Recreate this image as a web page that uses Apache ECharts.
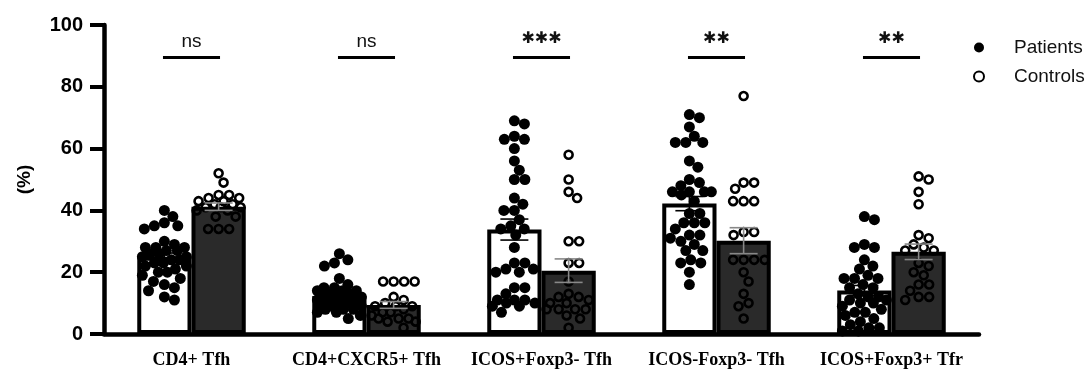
<!DOCTYPE html>
<html>
<head>
<meta charset="utf-8">
<script src="https://cdn.jsdelivr.net/npm/echarts@6/dist/echarts.min.js"></script>
<style>
html,body{margin:0;padding:0;background:#fff;}
#c{width:1092px;height:370px;}
</style>
</head>
<body>
<div id="c"></div>
<script>
// ---------- data ----------
const categories = ['CD4+ Tfh', 'CD4+CXCR5+ Tfh', 'ICOS+Foxp3- Tfh', 'ICOS-Foxp3- Tfh', 'ICOS+Foxp3+ Tfr'];
const patientMean = [25, 12.3, 33.8, 42.2, 14.1];
const patientSem  = [1.2, 0.9, 3.4, 2.3, 1.6];
const controlMean = [41.2, 9.4, 20.5, 30.2, 26.6];
const controlSem  = [1.2, 1.1, 3.8, 4.2, 2.5];
const patientValues = [
  [40, 38, 36, 35, 35, 34, 30, 29, 28, 28, 28, 27, 27, 26, 26, 25, 25, 24, 24, 23, 23, 22, 22, 21, 20, 20, 19, 18, 17, 16, 15, 14, 12, 11],
  [26, 24, 23, 22, 18, 16, 15, 15, 14, 14, 14, 13, 13, 13, 12, 12, 12, 11, 11, 11, 10, 10, 10, 9, 9, 9, 8, 8, 8, 7, 7, 6, 5],
  [69, 68, 64, 63, 63, 60, 56, 53, 50, 50, 44, 42, 40, 40, 37, 35, 34, 34, 32, 28, 23, 23, 21, 21, 20, 20, 15, 15, 13, 11, 11, 11, 10, 10, 9, 9, 7],
  [71, 70, 67, 64, 62, 62, 62, 56, 54, 50, 49, 48, 46, 46, 46, 46, 45, 43, 39, 39, 36, 36, 36, 34, 32, 32, 31, 30, 29, 27, 27, 24, 23, 23, 20, 16],
  [38, 37, 29, 28, 28, 24, 22, 21, 19, 18, 18, 18, 16, 15, 15, 13, 12, 12, 11, 11, 10, 10, 9, 8, 7, 7, 6, 5, 4, 3, 2, 2, 1, 1]
];
const controlValues = [
  [52, 49, 45, 45, 44, 44, 43, 43, 42, 42, 41, 41, 41, 40, 40, 38, 38, 34, 34, 34],
  [17, 17, 17, 17, 12, 11, 10, 9, 9, 9, 8, 7, 7, 6, 5, 5, 5, 4, 4, 2],
  [58, 50, 46, 44, 30, 30, 23, 23, 17, 13, 12, 12, 11, 10, 10, 8, 8, 8, 8, 6, 5, 2],
  [77, 49, 49, 47, 43, 43, 43, 33, 33, 32, 24, 24, 24, 24, 20, 17, 13, 10, 9, 5],
  [51, 50, 46, 42, 32, 31, 29, 28, 27, 27, 23, 22, 20, 19, 16, 16, 14, 12, 12, 11]
];
const sigLabels = ['ns', 'ns', '***', '**', '**'];
const sigLevel = 89.5;
const yMin = 0, yMax = 100, yInterval = 20;

// ---------- layout ----------
const GRID = {left: 104, right: 113, top: 25, bottom: 36};
const W = 1092, H = 370;
const gridW = W - GRID.left - GRID.right;
const gridH = H - GRID.top - GRID.bottom;
const bandPx = gridW / categories.length;
const pxPerUnit = gridH / (yMax - yMin);
const BAR_FRAC = 0.31;          // bar width as fraction of category band
const SIDE = BAR_FRAC / 2;      // bar centre offset from category centre (in category units)

// deterministic beeswarm: x offsets in px for the given values
function swarm(values, D, limit) {
  const order = values.map((v, i) => i).sort((a, b) => values[b] - values[a]);
  const placed = [];
  const offs = new Array(values.length);
  for (const i of order) {
    const y = values[i] * pxPerUnit;
    const near = placed.filter(p => Math.abs(p.y - y) < D);
    const cands = [0];
    near.forEach(p => {
      const dx = Math.sqrt(D * D - (p.y - y) * (p.y - y));
      cands.push(p.x + dx, p.x - dx);
    });
    cands.sort((a, b) => Math.abs(a) - Math.abs(b));
    let x = null;
    for (const c of cands) {
      if (Math.abs(c) > limit + 1e-6) continue;
      if (near.every(p => (p.x - c) * (p.x - c) + (p.y - y) * (p.y - y) >= D * D - 0.01)) { x = c; break; }
    }
    if (x === null) {
      let best = 0, bestD = -1;
      for (let c = -limit; c <= limit + 1e-6; c += 1) {
        const md = Math.min.apply(null, near.map(p => Math.hypot(p.x - c, p.y - y)));
        if (md > bestD) { bestD = md; best = c; }
      }
      x = best;
    }
    placed.push({x: x, y: y});
    offs[i] = x;
  }
  return offs;
}

function pointsFor(groups, side) {
  const out = [];
  groups.forEach((vals, g) => {
    const offs = swarm(vals, 10.5, 22);
    vals.forEach((v, k) => out.push([g + side * SIDE + offs[k] / bandPx, v]));
  });
  return out;
}

const patientPts = pointsFor(patientValues, -1);
const controlPts = pointsFor(controlValues, 1);

function errRender(side, color) {
  return function (params, api) {
    const cat = api.value(0), m = api.value(1), s = api.value(2);
    const bw = api.size([1, 0])[0];
    const c = api.coord([cat, m]);
    const x = c[0] + side * bw * SIDE;
    const yt = api.coord([cat, m + s])[1];
    const yb = api.coord([cat, m - s])[1];
    const hw = bw * 0.08;
    const st = {stroke: color, lineWidth: 1.6};
    return {type: 'group', children: [
      {type: 'line', shape: {x1: x, y1: yt, x2: x, y2: yb}, style: st},
      {type: 'line', shape: {x1: x - hw, y1: yt, x2: x + hw, y2: yt}, style: st},
      {type: 'line', shape: {x1: x - hw, y1: yb, x2: x + hw, y2: yb}, style: st}
    ]};
  };
}

const chart = echarts.init(document.getElementById('c'), null, {renderer: 'canvas'});
chart.setOption({
  animation: false,
  backgroundColor: '#fff',
  grid: {left: GRID.left, right: GRID.right, top: GRID.top, bottom: GRID.bottom, containLabel: false},
  legend: {
    orient: 'vertical', left: 968, top: 33, itemGap: 10,
    itemWidth: 10, itemHeight: 10,
    data: [{name: 'Patients', icon: 'circle'}, {name: 'Controls', icon: 'circle'}],
    textStyle: {fontFamily: 'Liberation Sans', fontSize: 19, color: '#111', padding: [0, 0, 0, 25]}
  },
  xAxis: [{
    type: 'category', data: categories,
    axisLine: {lineStyle: {color: '#000', width: 4.5}},
    axisTick: {show: false},
    axisLabel: {interval: 0, hideOverlap: false, fontFamily: 'Liberation Serif', fontWeight: 'bold', fontSize: 18, color: '#000', margin: 17}
  }, {
    type: 'value', min: -0.5, max: categories.length - 0.5, show: false
  }],
  yAxis: {
    type: 'value', min: yMin, max: yMax, interval: yInterval,
    name: '(%)', nameLocation: 'middle', nameRotate: 90, nameGap: 70,
    nameTextStyle: {fontFamily: 'Liberation Sans', fontWeight: 'bold', fontSize: 19, color: '#000'},
    splitLine: {show: false},
    axisLine: {show: true, onZero: false, lineStyle: {color: '#000', width: 4.5}},
    axisTick: {show: true, length: 14, lineStyle: {color: '#000', width: 4}},
    axisLabel: {fontFamily: 'Liberation Sans', fontWeight: 'bold', fontSize: 20, color: '#000', margin: 21}
  },
  series: [
    {
      type: 'bar', name: 'Patients bar', data: patientMean, barWidth: (BAR_FRAC * 100) + '%', barGap: '0%',
      itemStyle: {color: '#fff', borderColor: '#000', borderWidth: 4}, z: 2
    },
    {
      type: 'bar', name: 'Controls bar', data: controlMean, barWidth: (BAR_FRAC * 100) + '%', barGap: '0%',
      itemStyle: {color: '#2a2a2a', borderColor: '#000', borderWidth: 4}, z: 2
    },
    {
      type: 'scatter', name: 'Patients', xAxisIndex: 1, data: patientPts,
      symbol: 'circle', symbolSize: 11,
      itemStyle: {color: '#000', opacity: 1}, z: 3
    },
    {
      type: 'scatter', name: 'Controls', xAxisIndex: 1, data: controlPts,
      symbol: 'circle', symbolSize: 8,
      itemStyle: {color: 'rgba(0,0,0,0)', borderColor: '#000', borderWidth: 2.6, opacity: 1}, z: 3
    },
    {
      type: 'custom', name: 'Patients err', renderItem: errRender(-1, '#000'),
      data: patientMean.map((m, i) => [i, m, patientSem[i]]), z: 4
    },
    {
      type: 'custom', name: 'Controls err', renderItem: errRender(1, '#888'),
      data: controlMean.map((m, i) => [i, m, controlSem[i]]), z: 4
    },
    {
      type: 'custom', name: 'sig',
      renderItem: function (params, api) {
        const i = api.value(0);
        const c = api.coord([i, api.value(1)]);
        const bw = api.size([1, 0])[0];
        const hw = bw * 0.163;
        const lab = sigLabels[params.dataIndex];
        const isStar = lab.indexOf('*') >= 0;
        return {type: 'group', children: [
          {type: 'line', shape: {x1: c[0] - hw, y1: c[1], x2: c[0] + hw, y2: c[1]}, style: {stroke: '#000', lineWidth: 3}},
          {type: 'text', x: c[0], y: c[1] - (isStar ? 19 : 16),
            style: {text: isStar ? lab.replace(/\*/g, '\u2731') : lab, align: 'center', verticalAlign: 'middle',
              fill: '#111',
              font: isStar ? 'bold 16px "DejaVu Sans"' : '19px "Liberation Sans"'}}
        ]};
      },
      data: sigLabels.map((s, i) => [i, sigLevel]), z: 5
    }
  ]
});
</script>
</body>
</html>
